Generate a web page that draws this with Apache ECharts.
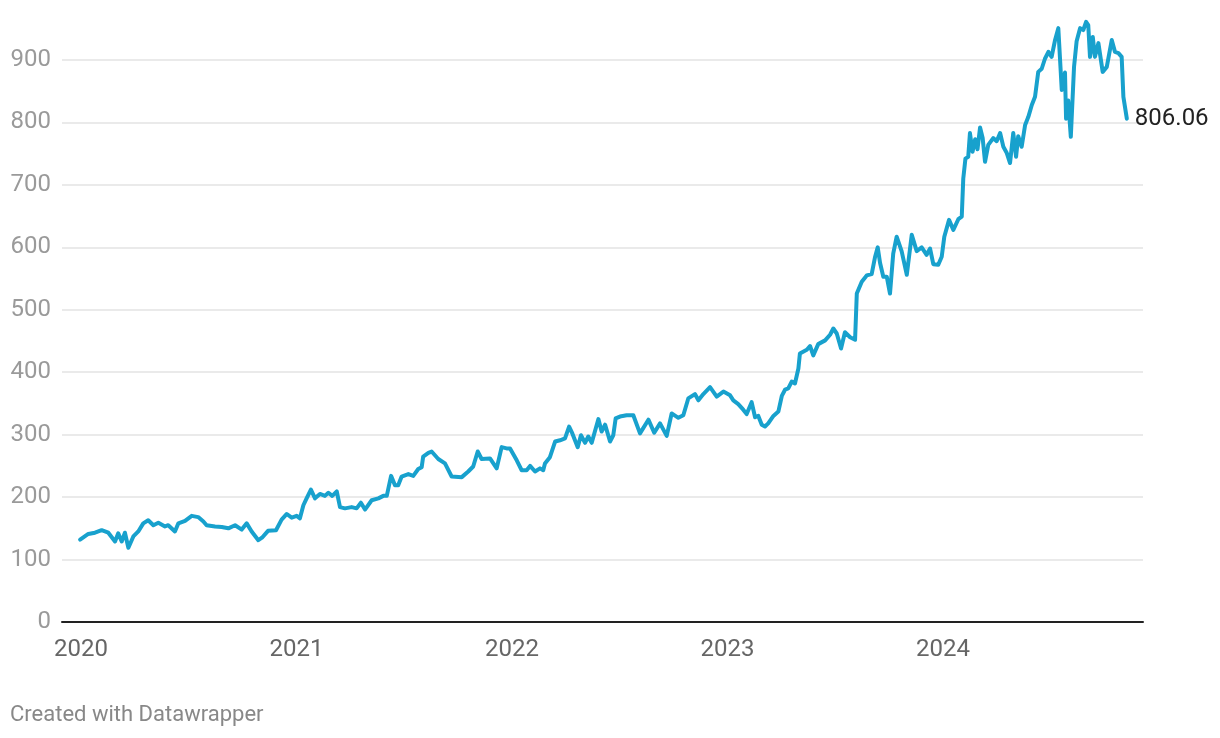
<!DOCTYPE html>
<html>
<head>
<meta charset="utf-8">
<script src="https://cdn.jsdelivr.net/npm/echarts@6/dist/echarts.min.js"></script>
<style>
html,body{margin:0;padding:0;background:#fff;}
#chart{width:1220px;height:738px;}
</style>
</head>
<body>
<div id="chart"></div>
<script>
// decimal year of each point
var years = [
2019.996,2020.034,2020.065,2020.096,2020.127,2020.158,2020.173,2020.189,2020.204,2020.220,
2020.243,2020.266,2020.289,2020.312,2020.336,2020.359,2020.390,2020.405,2020.436,2020.452,
2020.483,2020.514,2020.544,2020.568,2020.583,2020.622,2020.653,2020.684,2020.715,2020.746,
2020.769,2020.792,2020.823,2020.840,2020.868,2020.905,2020.931,2020.955,2020.978,2021.001,
2021.016,2021.032,2021.047,2021.067,2021.086,2021.109,2021.132,2021.148,2021.166,2021.187,
2021.202,2021.225,2021.256,2021.279,2021.299,2021.318,2021.349,2021.380,2021.403,2021.419,
2021.439,2021.457,2021.472,2021.488,2021.519,2021.542,2021.565,2021.581,2021.588,2021.612,
2021.627,2021.658,2021.689,2021.720,2021.767,2021.797,2021.820,2021.841,2021.859,2021.898,
2021.929,2021.952,2021.975,2021.991,2022.022,2022.045,2022.068,2022.084,2022.107,2022.130,
2022.145,2022.153,2022.176,2022.200,2022.223,2022.246,2022.265,2022.280,2022.305,2022.320,
2022.339,2022.354,2022.370,2022.382,2022.401,2022.416,2022.432,2022.455,2022.470,2022.481,
2022.501,2022.532,2022.563,2022.594,2022.633,2022.660,2022.687,2022.718,2022.741,2022.772,
2022.795,2022.818,2022.849,2022.865,2022.888,2022.919,2022.950,2022.981,2023.012,2023.027,
2023.050,2023.073,2023.089,2023.112,2023.128,2023.143,2023.159,2023.174,2023.189,2023.213,
2023.236,2023.252,2023.267,2023.282,2023.298,2023.313,2023.329,2023.336,2023.368,2023.383,
2023.398,2023.421,2023.453,2023.476,2023.491,2023.507,2023.527,2023.545,2023.569,2023.592,
2023.600,2023.623,2023.646,2023.669,2023.685,2023.697,2023.708,2023.723,2023.739,2023.754,
2023.769,2023.785,2023.808,2023.832,2023.855,2023.878,2023.901,2023.924,2023.940,2023.955,
2023.978,2023.994,2024.006,2024.028,2024.048,2024.071,2024.087,2024.094,2024.104,2024.117,
2024.125,2024.137,2024.149,2024.160,2024.172,2024.184,2024.195,2024.210,2024.233,2024.249,
2024.265,2024.280,2024.296,2024.311,2024.326,2024.339,2024.349,2024.365,2024.381,2024.396,
2024.412,2024.427,2024.442,2024.458,2024.473,2024.489,2024.504,2024.520,2024.535,2024.551,
2024.566,2024.571,2024.581,2024.593,2024.602,2024.608,2024.620,2024.636,2024.651,2024.664,
2024.674,2024.682,2024.695,2024.705,2024.721,2024.741,2024.760,2024.783,2024.798,2024.814,
2024.829,2024.837,2024.853
];
// closing price
var values = [
132,141,143,147,143,129,142,129,143,119,
137,145,158,163,155,159,153,155,145,158,
162,170,168,161,155,153,152,150,155,148,
158,145,131,135,146,147,164,173,167,170,
166,187,198,212,198,205,202,207,202,209,
184,182,184,182,191,180,195,198,202,202,
234,219,219,233,237,234,245,248,265,271,
273,261,254,233,232,241,249,273,261,262,
246,280,278,278,259,243,243,250,241,246,
243,254,264,289,291,294,313,302,280,299,
287,297,287,302,325,305,316,289,299,326,
329,331,331,302,324,303,318,298,334,327,
331,358,365,355,365,376,361,369,363,355,
349,340,333,352,328,330,316,313,318,330,
337,362,372,374,385,382,406,430,436,442,
427,445,451,460,470,462,438,464,456,452,
526,545,555,557,585,600,575,553,553,526,
590,617,594,556,620,594,600,588,598,573,
572,585,617,644,628,645,649,710,742,745,
783,753,773,757,792,775,737,764,775,770,
783,761,751,735,783,745,778,761,796,809,
828,841,881,886,902,913,905,932,951,852,
880,806,835,777,774,889,930,951,948,961,
956,905,937,905,927,881,889,932,913,911,
905,841,806.06
];
var yearTicks = [2020, 2021, 2022, 2023, 2024];
var yTicks = [0, 100, 200, 300, 400, 500, 600, 700, 800, 900];

var data = years.map(function (y, i) { return [y, values[i]]; });

var chart = echarts.init(document.getElementById('chart'), null, {renderer: 'canvas'});
chart.setOption({
  animation: false,
  backgroundColor: '#ffffff',
  textStyle: {fontFamily: 'Roboto'},
  grid: {left: 62, right: 77, top: 60, bottom: 116, containLabel: false},
  graphic: [{
    type: 'text', left: 10, top: 704,
    style: {text: 'Created with Datawrapper', fill: '#888888', font: '22px Roboto'}
  }],
  xAxis: {
    type: 'value',
    min: 2019.912,
    max: 2024.928,
    splitLine: {show: false},
    axisTick: {show: false},
    axisLine: {show: true, onZero: false, lineStyle: {color: '#222222', width: 2}},
    axisLabel: {
      customValues: yearTicks,
      color: '#666666', fontSize: 24, fontFamily: 'Roboto', margin: 16,
      formatter: function (v) { return String(Math.round(v)); }
    }
  },
  yAxis: {
    type: 'value',
    min: 0, max: 900, interval: 100,
    axisLine: {show: false},
    axisTick: {show: false},
    splitLine: {show: true, lineStyle: {color: '#e3e3e3', width: 1.5}},
    axisLabel: {
      color: '#9a9a9a', fontSize: 24, fontFamily: 'Roboto', margin: 11,
      formatter: function (v) { return yTicks.indexOf(v) >= 0 ? String(v) : ''; }
    }
  },
  series: [{
    type: 'line',
    data: data,
    showSymbol: false,
    clip: false,
    z: 5,
    lineStyle: {color: '#18a1cd', width: 4, join: 'round', cap: 'round'},
    itemStyle: {color: '#18a1cd'},
    endLabel: {
      show: true,
      distance: 8,
      color: '#222222', fontSize: 24, fontFamily: 'Roboto',
      formatter: function (p) { return p.value[1].toFixed(2); }
    }
  }]
});
</script>
</body>
</html>
